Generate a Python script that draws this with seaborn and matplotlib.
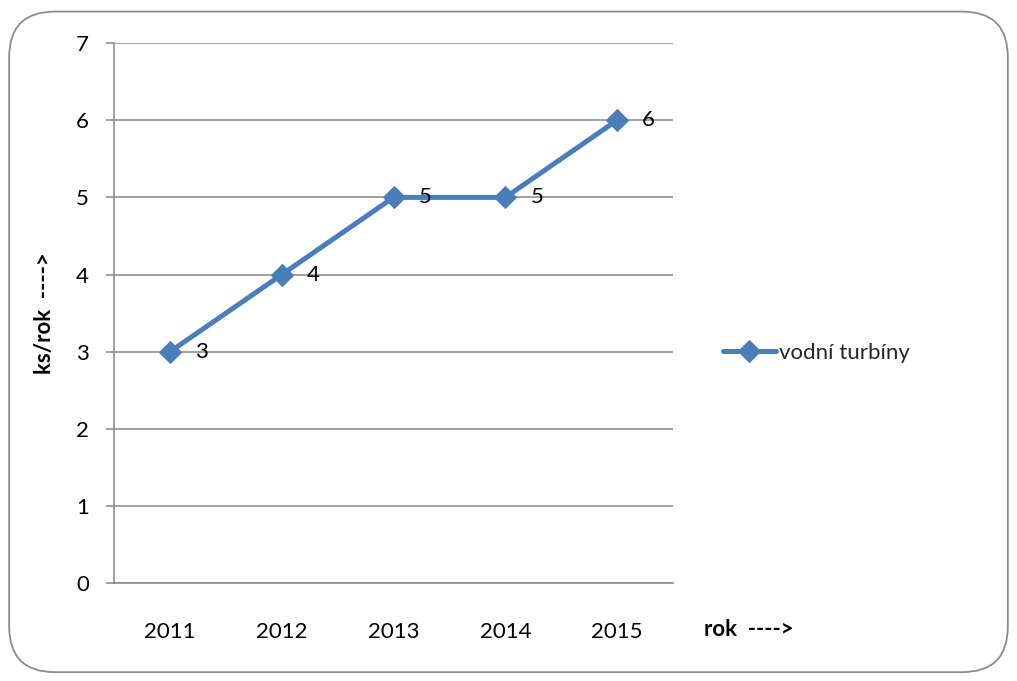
import matplotlib
matplotlib.use("Agg")
import matplotlib.pyplot as plt
from matplotlib.patches import FancyBboxPatch
from matplotlib.ticker import FixedLocator, NullFormatter, FixedFormatter
import seaborn as sns
import pandas as pd

years = ["2011", "2012", "2013", "2014", "2015"]
turbines = [3, 4, 5, 5, 6]
series_name = "vodní turbíny"
y_ticks = [0, 1, 2, 3, 4, 5, 6, 7]

sns.set_theme(style="white")
plt.rcParams["font.family"] = ["Lato", "DejaVu Sans"]

LINE_BLUE = "#4A7EBB"
GRID_GRAY = "#868686"
FS = 16

df = pd.DataFrame({"pos": range(len(years)), "rok": years, "ks": turbines, "serie": series_name})

fig = plt.figure(figsize=(10.17, 6.81), dpi=100)
ax = fig.add_axes([0.1121, 0.1432, 0.5497, 0.7937])

# rounded outer frame of the chart
frame = FancyBboxPatch((0.009, 0.013), 0.982, 0.970,
                       boxstyle="round,pad=0,rounding_size=0.045",
                       transform=fig.transFigure, facecolor="none",
                       edgecolor="#8C8C8C", linewidth=1.3, mutation_aspect=1017/681)
fig.patches.append(frame)

sns.lineplot(data=df, x="pos", y="ks", hue="serie", palette=[LINE_BLUE],
             marker="D", markersize=11, markeredgecolor=LINE_BLUE,
             linewidth=3.6, ax=ax, zorder=3)

# value labels next to each point
for p, v in zip(df["pos"], df["ks"]):
    ax.annotate(str(v), (p, v), xytext=(18, 0), textcoords="offset points",
                ha="left", va="center", fontsize=FS, color="black")

ax.set_xlim(-0.5, len(years) - 0.5)
ax.set_ylim(0, 7)
ax.set_yticks(y_ticks)
ax.set_yticklabels([str(t) for t in y_ticks], fontsize=FS, color="black")
ax.yaxis.grid(True, color=GRID_GRAY, linewidth=1.1)
ax.set_axisbelow(True)

# category boundaries as major ticks, names centred between them
ax.xaxis.set_major_locator(FixedLocator([i - 0.5 for i in range(len(years) + 1)]))
ax.xaxis.set_major_formatter(NullFormatter())
ax.xaxis.set_minor_locator(FixedLocator(list(range(len(years)))))
ax.xaxis.set_minor_formatter(FixedFormatter(years))
ax.tick_params(axis="x", which="major", length=7, width=1.1, color=GRID_GRAY, direction="out")
ax.tick_params(axis="x", which="minor", length=0, pad=28, labelsize=FS, labelcolor="black")
ax.tick_params(axis="y", which="major", length=6, width=1.1, color=GRID_GRAY, pad=12, left=True)

for s in ["top", "right"]:
    ax.spines[s].set_visible(False)
for s in ["left", "bottom"]:
    ax.spines[s].set_color(GRID_GRAY)
    ax.spines[s].set_linewidth(1.1)

ax.set_xlabel("")
ax.set_ylabel("ks/rok  ---->", fontsize=FS, fontweight="bold", color="black", labelpad=15)
fig.text(0.692, 0.075, "rok  ---->", fontsize=FS, fontweight="bold", color="black",
         ha="left", va="center")

leg = ax.legend(loc="center left", bbox_to_anchor=(0.691, 0.482), bbox_transform=fig.transFigure,
                frameon=False, fontsize=FS, handlelength=2.4, handletextpad=0.15)
for line in leg.get_lines():
    line.set_linewidth(3.6)
    line.set_markersize(11)

fig.savefig("out.png", dpi=100)
